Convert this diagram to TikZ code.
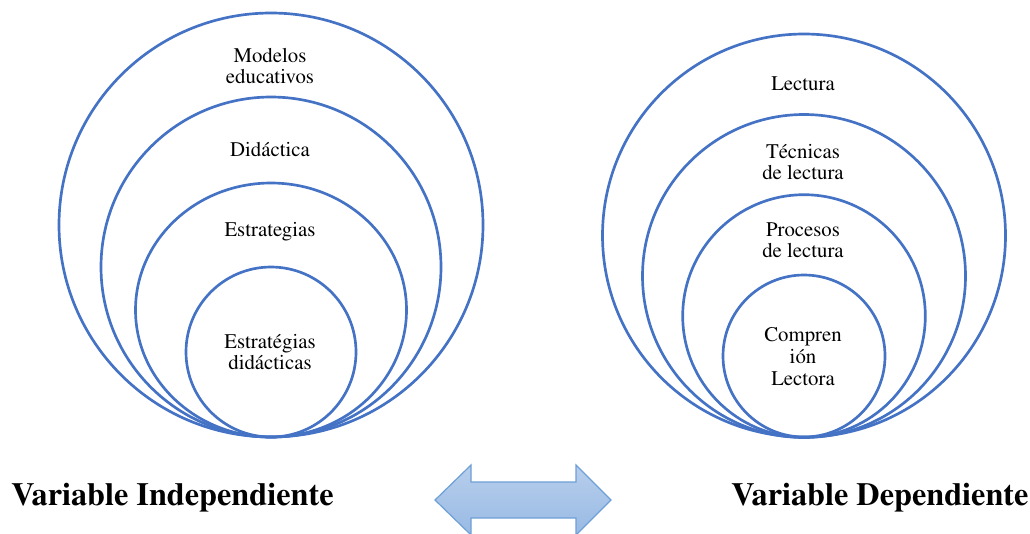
\documentclass[tikz,border=0pt]{standalone}
\usepackage[T1]{fontenc}
\renewcommand{\rmdefault}{ptm}
\definecolor{ringblue}{RGB}{68,114,196}
\definecolor{arrowtop}{RGB}{184,206,236}
\definecolor{arrowbot}{RGB}{152,186,228}
\definecolor{arrowline}{RGB}{110,160,214}
\begin{document}
\begin{tikzpicture}[x=0.75pt,y=-0.75pt,
  ring/.style={draw=ringblue,line width=2pt},
  lbl/.style={anchor=base,inner sep=0pt,font=\rmfamily\fontsize{15.6}{18}\selectfont},
  varlbl/.style={anchor=base west,inner sep=0pt,font=\rmfamily\bfseries\fontsize{24.2}{28}\selectfont},
  dblarrow/.style={draw=arrowline,line width=0.9pt,top color=arrowtop,bottom color=arrowbot}]
\useasboundingbox (0,0) rectangle (1030,533);
% left rings
\draw[ring] (271,225) circle [radius=212*0.75pt];
\draw[ring] (271,267) circle [radius=170*0.75pt];
\draw[ring] (271,310) ellipse [x radius=135.5*0.75pt, y radius=127*0.75pt];
\draw[ring] (271,352) circle [radius=85*0.75pt];
% right rings
\draw[ring] (804,235.5) circle [radius=201.5*0.75pt];
\draw[ring] (804,276) circle [radius=161.5*0.75pt];
\draw[ring] (804,316) circle [radius=121.3*0.75pt];
\draw[ring] (804,356) circle [radius=81*0.75pt];
% left labels
\node[lbl] (me1) at (270,62) {Modelos};
\node[lbl] (me2) at (270,83.5) {educativos};
\node[lbl] (di) at (270,156) {Did\'actica};
\node[lbl] (es) at (270,236.5) {Estrategias};
\node[lbl] (ed1) at (270,348) {Estrat\'egias};
\node[lbl] (ed2) at (270,369.5) {did\'acticas};
% right labels
\node[lbl] (le) at (803,90.5) {Lectura};
\node[lbl] (te1) at (803,158) {T\'ecnicas};
\node[lbl] (te2) at (803,179.5) {de lectura};
\node[lbl] (pr1) at (803,236) {Procesos};
\node[lbl] (pr2) at (803,257.5) {de lectura};
\node[lbl] (co1) at (803,341) {Compren};
\node[lbl] (co2) at (803,363) {i\'on};
\node[lbl] (co3) at (803,385.5) {Lectora};
% variable labels
\node[varlbl] (vi) at (11,505) {Variable Independiente};
\node[varlbl] (vd) at (731,505) {Variable Dependiente};
% double arrow
\begin{scope}
\clip (0,0) rectangle (1030,533);
\path[dblarrow] (435,500) -- (471,465) -- (471,482) -- (576,482) -- (576,465)
  -- (611,500) -- (576,535) -- (576,518) -- (471,518) -- (471,535) -- cycle;
\end{scope}
\end{tikzpicture}
\end{document}
